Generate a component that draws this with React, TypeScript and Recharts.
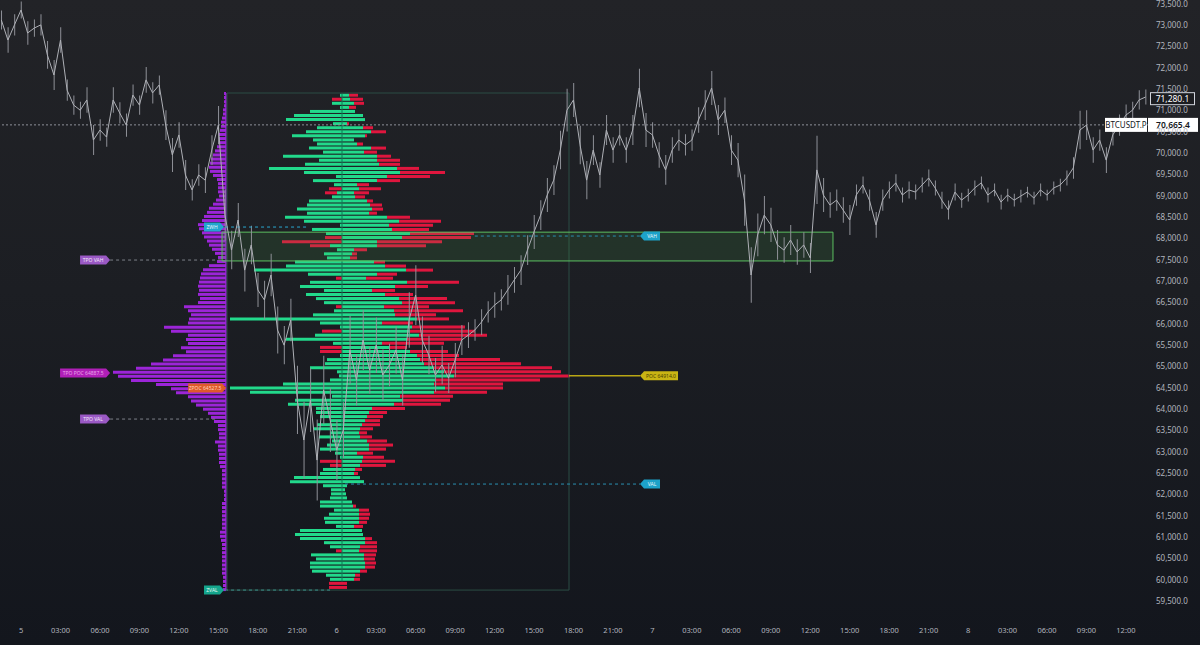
import React from 'react'
import {
  Bar,
  BarChart,
  ComposedChart,
  Line,
  ReferenceArea,
  ReferenceDot,
  ReferenceLine,
  XAxis,
  YAxis,
} from 'recharts'

const W = 1200
const H = 645
const AXIS_W = 52
const AXIS_H = 25

// price scale (right axis)
const Y_MIN = 59055
const Y_MAX = 73594
// time scale, hours from 5th 00:00
const X_MIN = -1.6
const X_MAX = 85.68

const priceTicks = [
  59500, 60000, 60500, 61000, 61500, 62000, 62500, 63000, 63500, 64000,
  64500, 65000, 65500, 66000, 66500, 67000, 67500, 68000, 68500, 69000,
  69500, 70000, 70500, 71000, 71500, 72000, 72500, 73000, 73500,
]

const timeTicks = [
  0, 3, 6, 9, 12, 15, 18, 21, 24, 27, 30, 33, 36, 39, 42, 45, 48, 51, 54, 57,
  60, 63, 66, 69, 72, 75, 78, 81, 84,
]
const timeLabels = [
  '5', '03:00', '06:00', '09:00', '12:00', '15:00', '18:00', '21:00',
  '6', '03:00', '06:00', '09:00', '12:00', '15:00', '18:00', '21:00',
  '7', '03:00', '06:00', '09:00', '12:00', '15:00', '18:00', '21:00',
  '8', '03:00', '06:00', '09:00', '12:00',
]

// BTCUSDT.P, one sample every 30 min from h = -1.5
const PRICE_START = -1.5
const PRICE_STEP = 0.5
const prices = [
  73125, 72655, 73010, 73360, 72820, 72935, 73010, 72305, 71835, 72655,
  71480, 71130, 71010, 71250, 70310, 70545, 70380, 71250, 70945, 70660,
  71365, 71130, 71720, 71415, 71600, 70660, 69960, 70430, 69490, 69140,
  69490, 69370, 70075, 70660, 68550, 67730, 68435, 67260, 67850, 66795,
  66560, 67145, 65855, 65500, 66090, 64215, 63275, 64215, 62805, 64450,
  63745, 63040, 63510, 65385, 64685, 65620, 64915, 65500, 64800, 65035,
  65385, 64685, 66090, 66675, 65620, 65270, 64800, 65035, 64730, 65150,
  65620, 65735, 65855, 66040, 66280, 66440, 66560, 66795, 67030, 67260,
  67730, 68155, 68550, 69020, 69370, 70075, 71010, 71250, 70195, 69370,
  70075, 69490, 70545, 70075, 70430, 70075, 70545, 71530, 70545, 70430,
  69960, 69610, 70075, 70310, 70195, 70310, 70780, 71130, 71530, 70780,
  71010, 70075, 69840, 68900, 67145, 68085, 68550, 68320, 67850, 67730,
  67965, 67685, 67850, 67545, 69610, 69020, 68785, 68900, 68670, 68435,
  69020, 69255, 68900, 68320, 68900, 69140, 69305, 69020, 69140, 69090,
  69255, 69420, 69185, 68900, 68670, 69090, 68900, 69020, 69185, 69305,
  69020, 69140, 68855, 69020, 68900, 68995, 69090, 68950, 69140, 69020,
  69185, 69255, 69420, 69655, 70545, 70660, 70075, 70310, 69840, 70430,
  70660, 70895, 71010, 71250, 71320,
]
// high-low range of each 30 min sample
const ranges = [
  450, 600, 500, 400, 550, 400, 500, 650, 700, 600,
  500, 450, 400, 600, 700, 500, 450, 600, 500, 550,
  500, 450, 600, 500, 450, 700, 800, 600, 700, 500,
  500, 600, 700, 900, 1200, 900, 800, 1000, 900, 800,
  900, 1000, 1100, 900, 1000, 1600, 1800, 1500, 1900, 1600,
  1500, 1400, 1300, 1600, 1200, 1400, 1100, 1300, 1200, 1000,
  1100, 1200, 1300, 1400, 1100, 900, 800, 900, 700, 800,
  700, 600, 500, 600, 500, 600, 500, 700, 600, 700,
  700, 800, 700, 800, 700, 900, 1000, 800, 900, 900,
  700, 600, 700, 600, 500, 600, 700, 900, 800, 600,
  600, 700, 600, 500, 500, 500, 600, 700, 800, 700,
  600, 700, 800, 1200, 1300, 1000, 900, 800, 700, 600,
  700, 600, 600, 700, 1600, 800, 600, 500, 600, 700,
  500, 400, 500, 600, 500, 400, 400, 350, 400, 350,
  350, 400, 350, 400, 450, 400, 350, 300, 350, 300,
  350, 300, 350, 300, 300, 300, 250, 300, 300, 250,
  300, 300, 350, 500, 900, 700, 600, 500, 600, 500,
  500, 500, 400, 450, 350,
]

const LAST_PRICE = 70665.4
const MARK_PRICE = 71280.1

// volume profile, rows from the top (VP_HIGH) downwards
const VP_HIGH = 71373
const VP_ROW = 95.4
const vpGreenLeft = [
  2, 0, 10, 2, 32, 48, 56, 9, 25, 36, 50, 29, 25, 33, 19, 59, 23, 37, 73, 38,
  6, 29, 8, 0, 5, 10, 33, 35, 45, 35, 57, 38, 2, 30, 16, 0, 0, 12, 5, 18,
  15, 47, 56, 88, 34, 0, 32, 42, 18, 36, 26, 18, 0, 8, 29, 112, 22, 2, 0, 27,
  56, 9, 0, 0, 2, 15, 17, 32, 5, 3, 12, 59, 112, 92, 10, 47, 54, 26, 26, 22,
  11, 25, 28, 12, 23, 10, 15, 22, 7, 2, 0, 0, 19, 22, 48, 52, 19, 11, 11, 12,
  22, 22, 8, 13, 18, 17, 6, 42, 47, 42, 18, 12, 0, 31, 26, 32, 32, 30, 16, 12,
  0, 0,
]
const vpRedLeft = [
  0, 10, 0, 0, 0, 0, 0, 0, 0, 0, 0, 0, 0, 0, 0, 0, 0, 0, 0, 0,
  0, 0, 0, 13, 12, 0, 0, 0, 0, 0, 0, 0, 0, 0, 0, 17, 60, 20, 0, 0,
  0, 0, 0, 0, 0, 6, 0, 0, 0, 0, 0, 0, 6, 0, 0, 0, 0, 0, 20, 0,
  0, 0, 22, 22, 0, 0, 0, 0, 0, 0, 0, 0, 0, 0, 0, 0, 0, 0, 0, 0,
  0, 0, 0, 0, 0, 0, 0, 0, 0, 0, 22, 12, 0, 0, 0, 0, 0, 0, 0, 0,
  0, 0, 0, 0, 0, 0, 0, 0, 0, 0, 0, 0, 6, 0, 0, 0, 0, 0, 0, 0,
  13, 13,
]
const vpGreenRight = [
  7, 8, 12, 7, 13, 21, 23, 5, 21, 29, 23, 12, 15, 29, 22, 35, 35, 37, 55, 58,
  45, 35, 15, 17, 12, 13, 25, 28, 30, 27, 45, 57, 47, 50, 68, 60, 35, 35, 12, 10,
  8, 32, 43, 64, 35, 24, 65, 53, 30, 43, 57, 60, 42, 52, 53, 75, 40, 70, 68, 77,
  65, 40, 47, 68, 75, 78, 82, 92, 102, 112, 93, 92, 103, 92, 58, 61, 52, 30, 27, 25,
  23, 20, 18, 17, 18, 25, 27, 27, 15, 21, 20, 18, 13, 12, 18, 22, 5, 3, 4, 5,
  10, 11, 17, 17, 17, 17, 12, 20, 21, 23, 23, 18, 17, 22, 22, 23, 23, 18, 13, 12,
  0, 0,
]
const vpRedRight = [
  9, 13, 10, 7, 0, 0, 0, 2, 10, 15, 2, 0, 6, 15, 13, 14, 23, 21, 22, 45,
  43, 23, 12, 22, 15, 10, 6, 12, 11, 8, 23, 42, 44, 37, 64, 69, 65, 49, 13, 5,
  7, 11, 21, 27, 20, 27, 52, 33, 23, 28, 48, 53, 45, 69, 41, 32, 31, 53, 65, 68,
  55, 62, 18, 38, 42, 80, 97, 118, 117, 116, 105, 69, 58, 53, 53, 47, 47, 33, 18, 16,
  15, 18, 13, 8, 12, 20, 24, 17, 16, 21, 33, 26, 7, 4, 0, 0, 0, 0, 0, 0,
  0, 3, 10, 11, 10, 8, 9, 0, 0, 7, 12, 17, 18, 12, 11, 11, 10, 7, 5, 6,
  5, 5,
]

// TPO profile, rows from the top (TPO_HIGH) downwards
const TPO_HIGH = 71413
const TPO_ROW = 96.15
const tpoCounts = [
  2, 2, 2, 2, 3, 3, 4, 5, 5, 6,
  7, 7, 8, 9, 11, 13, 15, 16, 17, 16,
  13, 9, 8, 8, 8, 7, 10, 13, 17, 19,
  22, 24, 28, 27, 24, 22, 19, 17, 14, 11,
  8, 9, 17, 23, 25, 26, 27, 28, 27, 28,
  26, 28, 42, 38, 35, 37, 38, 62, 55, 38,
  40, 38, 45, 40, 53, 63, 75, 90, 113, 108,
  95, 70, 55, 50, 38, 35, 30, 23, 18, 15,
  12, 8, 8, 7, 7, 11, 8, 8, 7, 7,
  7, 6, 4, 4, 4, 4, 4, 2, 2, 2,
  4, 4, 4, 4, 4, 4, 4, 6, 6, 5,
  4, 4, 4, 4, 4, 4, 4, 4, 3, 3,
  3, 3,
]

// session levels
const VA_HIGH = 68150
const VA_LOW = 67475
const VA_START = 15.28
const VA_END = 61.73
const BOX_START = 15.66
const BOX_END = 41.66
const BOX_HIGH = 71413
const BOX_LOW = 59757

const vpData = vpGreenLeft.map((gl, i) => ({
  price: VP_HIGH - i * VP_ROW,
  gl: -gl,
  rl: -vpRedLeft[i],
  gr: vpGreenRight[i],
  rr: vpRedRight[i],
}))

const tpoData = tpoCounts.map((c, i) => ({
  price: TPO_HIGH - i * TPO_ROW,
  count: c,
}))

const priceData = prices.map((p, i) => ({
  t: PRICE_START + i * PRICE_STEP,
  price: p,
  wick: [p - ranges[i] / 2, p + ranges[i] / 2],
}))

const GREEN = '#22d98b'
const RED = '#df163e'
const PURPLE = '#9c25d8'
const FONT = '"Noto Sans", "Liberation Sans", sans-serif'

function Tag(props: any) {
  const { cx, cy, text, fill, color, side, w } = props
  const h = 9
  const a = 4
  let pts = ''
  let tx = 0
  if (side === 'right') {
    const x0 = cx - a - w
    pts = `${x0},${cy - h / 2} ${cx - a},${cy - h / 2} ${cx},${cy} ${cx - a},${cy + h / 2} ${x0},${cy + h / 2}`
    tx = x0 + w / 2
  } else {
    const x1 = cx + a + w
    pts = `${cx},${cy} ${cx + a},${cy - h / 2} ${x1},${cy - h / 2} ${x1},${cy + h / 2} ${cx + a},${cy + h / 2}`
    tx = cx + a + w / 2
  }
  return (
    <g>
      <polygon points={pts} fill={fill} />
      <text x={tx} y={cy} dy="0.35em" textAnchor="middle" fontSize={5} fill={color} fontFamily={FONT}>
        {text}
      </text>
    </g>
  )
}

function LastPriceBox(props: any) {
  const { cx, cy } = props
  return (
    <g fontFamily={FONT}>
      <rect x={cx - 43} y={cy - 7} width={42} height={14} fill="#ffffff" />
      <text x={cx - 22} y={cy} dy="0.35em" textAnchor="middle" fontSize={8} fill="#131722">BTCUSDT.P</text>
      <rect x={cx} y={cy - 7} width={50} height={14} fill="#ffffff" />
      <text x={cx + 25} y={cy} dy="0.35em" textAnchor="middle" fontSize={8.5} fontWeight={600} fill="#131722">
        {LAST_PRICE.toLocaleString('en-US', { minimumFractionDigits: 1 })}
      </text>
    </g>
  )
}

function MarkPriceBox(props: any) {
  const { cx, cy } = props
  return (
    <g fontFamily={FONT}>
      <rect x={cx + 2.5} y={cy - 6} width={44} height={12} fill="#1c1d21" stroke="#d1d4dc" strokeWidth={1} />
      <text x={cx + 24.5} y={cy} dy="0.35em" textAnchor="middle" fontSize={8.5} fill="#ffffff">
        {MARK_PRICE.toLocaleString('en-US', { minimumFractionDigits: 1 })}
      </text>
    </g>
  )
}

const tags = [
  { t: 15.43, price: 68270, text: 'ZWH', fill: '#22a6cf', color: '#e8f7fc', side: 'right', w: 16 },
  { t: 6.77, price: 67496, text: 'TPO VAH', fill: '#9a59c4', color: '#f3e8fa', side: 'right', w: 26 },
  { t: 6.77, price: 64846, text: 'TPO POC 64887.5', fill: '#b01fb7', color: '#e9a5ea', side: 'right', w: 46 },
  { t: 15.59, price: 64494, text: 'ZPOC 64527.5', fill: '#df5a2a', color: '#ffd2bd', side: 'right', w: 34 },
  { t: 6.77, price: 63767, text: 'TPO VAL', fill: '#9a59c4', color: '#f3e8fa', side: 'right', w: 26 },
  { t: 15.43, price: 59757, text: 'ZVAL', fill: '#14a58c', color: '#e3fbf5', side: 'right', w: 16 },
  { t: 47.06, price: 68059, text: 'VAH', fill: '#1da2c9', color: '#e8f7fc', side: 'left', w: 16 },
  { t: 47.06, price: 64780, text: 'POC 64914.0', fill: '#c9b514', color: '#4a4200', side: 'left', w: 34 },
  { t: 47.06, price: 62243, text: 'VAL', fill: '#1da2c9', color: '#e8f7fc', side: 'left', w: 16 },
]

const segments = [
  { from: 15.51, to: 21.74, price: 68270, stroke: '#2aa7cf', dash: '3 3', width: 1 },
  { from: 6.77, to: 15.28, price: 67496, stroke: '#7d8089', dash: '3 3', width: 1 },
  { from: 6.77, to: 14.75, price: 63767, stroke: '#7d8089', dash: '3 3', width: 1 },
  { from: 15.51, to: 23.5, price: 59757, stroke: '#3b8e8a', dash: '3 3', width: 1 },
  { from: 34.5, to: 47.06, price: 68059, stroke: '#2a8fb0', dash: '3 3', width: 1 },
  { from: 41.66, to: 47.06, price: 64780, stroke: '#b9a614', dash: '', width: 1.5 },
  { from: 24.63, to: 47.06, price: 62243, stroke: '#2a8fb0', dash: '3 3', width: 1 },
]

const layer: React.CSSProperties = { position: 'absolute', left: 0, top: 0 }
const overlayMargin = { top: 0, right: AXIS_W, bottom: AXIS_H, left: 0 }

export default function App() {
  return (
    <div
      style={{
        position: 'absolute',
        left: 0,
        top: 0,
        width: W,
        height: H,
        overflow: 'hidden',
        background: 'linear-gradient(180deg, #222327 0%, #1c1e23 45%, #13161d 100%)',
        fontFamily: FONT,
      }}
    >
      {/* TPO profile */}
      <div style={layer}>
        <BarChart width={W} height={H} data={tpoData} layout="vertical" margin={overlayMargin}>
          <XAxis type="number" domain={[-922, 226]} reversed hide allowDataOverflow />
          <YAxis type="number" dataKey="price" domain={[Y_MIN, Y_MAX]} reversed hide allowDataOverflow />
          <Bar dataKey="count" fill={PURPLE} barSize={3} isAnimationActive={false} />
          <ReferenceLine
            segment={[{ x: 0, y: BOX_LOW }, { x: 0, y: BOX_HIGH }]}
            stroke={PURPLE}
            strokeWidth={1.5}
          />
        </BarChart>
      </div>

      {/* volume profile */}
      <div style={layer}>
        <BarChart width={W} height={H} data={vpData} layout="vertical" stackOffset="sign" margin={overlayMargin}>
          <XAxis type="number" domain={[-342, 806]} hide allowDataOverflow />
          <YAxis type="number" dataKey="price" domain={[Y_MIN, Y_MAX]} reversed hide allowDataOverflow />
          <Bar dataKey="gl" stackId="vp" fill={GREEN} barSize={3} isAnimationActive={false} />
          <Bar dataKey="rl" stackId="vp" fill={RED} barSize={3} isAnimationActive={false} />
          <Bar dataKey="gr" stackId="vp" fill={GREEN} barSize={3} isAnimationActive={false} />
          <Bar dataKey="rr" stackId="vp" fill={RED} barSize={3} isAnimationActive={false} />
          <ReferenceLine
            segment={[{ x: 0, y: BOX_LOW + 200 }, { x: 0, y: BOX_HIGH }]}
            stroke="#0e7a56"
            strokeWidth={1}
          />
        </BarChart>
      </div>

      {/* price, axes and levels */}
      <div style={layer}>
        <ComposedChart width={W} height={H} data={priceData} margin={{ top: 0, right: 0, bottom: 0, left: 0 }}>
          <XAxis
            type="number"
            dataKey="t"
            domain={[X_MIN, X_MAX]}
            ticks={timeTicks}
            tickFormatter={(v) => timeLabels[timeTicks.indexOf(v)]}
            height={AXIS_H}
            tick={{ fill: '#b2b5be', fontSize: 7.5, fontFamily: FONT }}
            tickLine={false}
            axisLine={false}
            allowDataOverflow
            interval={0}
          />
          <YAxis
            type="number"
            orientation="right"
            domain={[Y_MIN, Y_MAX]}
            ticks={priceTicks}
            tickFormatter={(v) => v.toLocaleString('en-US', { minimumFractionDigits: 1 })}
            width={AXIS_W}
            tick={{ fill: '#b2b5be', fontSize: 8, fontFamily: FONT, textAnchor: 'start' }}
            tickLine={false}
            axisLine={false}
            allowDataOverflow
            interval={0}
          />
          <ReferenceArea
            x1={BOX_START}
            x2={BOX_END}
            y1={BOX_LOW}
            y2={BOX_HIGH}
            fill="none"
            stroke="#2b4d44"
            strokeWidth={1}
          />
          <ReferenceArea
            x1={VA_START}
            x2={VA_END}
            y1={VA_LOW}
            y2={VA_HIGH}
            fill="#4caf50"
            fillOpacity={0.14}
            stroke="#5cbf60"
            strokeWidth={1}
          />
          <ReferenceLine y={LAST_PRICE} stroke="#8d9099" strokeDasharray="2 2" strokeWidth={1} />
          {segments.map((s, i) => (
            <ReferenceLine
              key={'s' + i}
              segment={[{ x: s.from, y: s.price }, { x: s.to, y: s.price }]}
              stroke={s.stroke}
              strokeDasharray={s.dash}
              strokeWidth={s.width}
            />
          ))}
          <Bar dataKey="wick" fill="#8f9198" barSize={1} isAnimationActive={false} />
          <Line
            type="linear"
            dataKey="price"
            stroke="#aeb0b6"
            strokeWidth={1}
            dot={false}
            activeDot={false}
            isAnimationActive={false}
          />
          {tags.map((g, i) => (
            <ReferenceDot
              key={'g' + i}
              x={g.t}
              y={g.price}
              ifOverflow="visible"
              shape={(p: any) => <Tag {...p} text={g.text} fill={g.fill} color={g.color} side={g.side} w={g.w} />}
            />
          ))}
          <ReferenceDot x={X_MAX} y={MARK_PRICE} ifOverflow="visible" shape={(p: any) => <MarkPriceBox {...p} />} />
          <ReferenceDot x={X_MAX} y={LAST_PRICE} ifOverflow="visible" shape={(p: any) => <LastPriceBox {...p} />} />
        </ComposedChart>
      </div>
    </div>
  )
}
